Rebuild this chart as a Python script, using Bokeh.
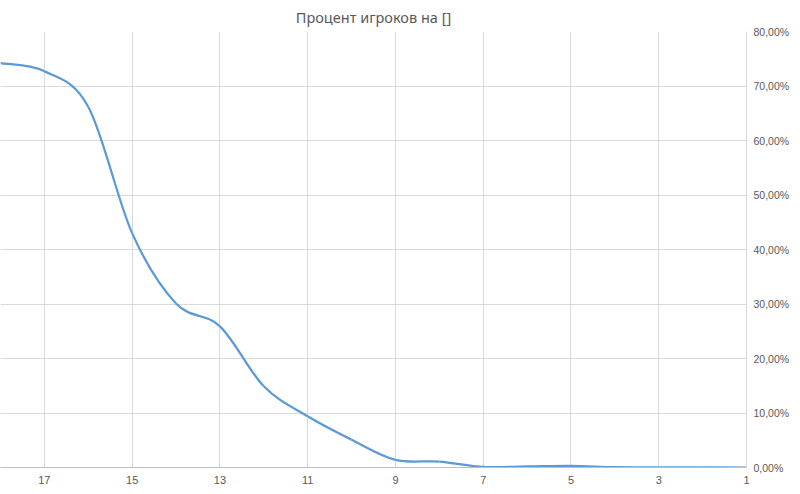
from bokeh.plotting import figure
from bokeh.models import Range1d, FixedTicker, LinearAxis
from bokeh.embed import file_html
from bokeh.resources import INLINE

# Data: number of remaining players (x) and percent of players (y, %)
levels = [18, 17, 16, 15, 14, 13, 12, 11, 10, 9, 8, 7, 6, 5, 4, 3, 2, 1]
percent = [74.2, 72.7, 66.2, 43.0, 30.1, 25.9, 14.9, 9.4, 5.1, 1.4, 1.1, 0.1, 0.2, 0.3, 0.05, 0.02, 0.01, 0.0]

x_ticks = [17, 15, 13, 11, 9, 7, 5, 3, 1]
y_ticks = [0, 10, 20, 30, 40, 50, 60, 70, 80]
y_tick_labels = ["0,00%", "10,00%", "20,00%", "30,00%", "40,00%", "50,00%", "60,00%", "70,00%", "80,00%"]

title_text = "Процент игроков на []"

LINE = "#5b9bd5"
GRID = "#d9d9d9"
TXT = "#595959"
FONT = "Liberation Sans"

p = figure(width=792, height=486, output_backend="svg", toolbar_location=None,
           x_range=Range1d(18, 1), y_range=Range1d(0, 80),
           min_border_left=0, min_border_right=0, min_border_top=0, min_border_bottom=0,
           y_axis_location=None)
p.outline_line_color = None
p.background_fill_color = "white"
p.border_fill_color = "white"

p.title.text = title_text
p.title.align = "center"
p.title.text_font = "Noto Sans"
p.title.text_font_size = "14.5px"
p.title.text_font_style = "normal"
p.title.text_color = TXT
p.title.offset = 0
p.title.standoff = 9

# smoothed line (Catmull-Rom -> Bezier segments), built from the data arrays
n = len(levels)
x0s, y0s, x1s, y1s, cx0s, cy0s, cx1s, cy1s = [], [], [], [], [], [], [], []
for i in range(n - 1):
    xm1, ym1 = (levels[i - 1], percent[i - 1]) if i > 0 else (levels[i], percent[i])
    xa, ya = levels[i], percent[i]
    xb, yb = levels[i + 1], percent[i + 1]
    xp2, yp2 = (levels[i + 2], percent[i + 2]) if i + 2 < n else (xb, yb)
    x0s.append(xa); y0s.append(ya); x1s.append(xb); y1s.append(yb)
    cx0s.append(xa + (xb - xm1) / 6.0); cy0s.append(ya + (yb - ym1) / 6.0)
    cx1s.append(xb - (xp2 - xa) / 6.0); cy1s.append(yb - (yp2 - ya) / 6.0)

p.bezier(x0=x0s, y0=y0s, x1=x1s, y1=y1s, cx0=cx0s, cy0=cy0s, cx1=cx1s, cy1=cy1s,
         line_color=LINE, line_width=2.25)

# x axis
xa = p.xaxis[0]
xa.ticker = FixedTicker(ticks=x_ticks)
xa.axis_line_color = "#bfbfbf"
xa.major_tick_line_color = None
xa.minor_tick_line_color = None
xa.major_tick_out = 0
xa.major_tick_in = 0
xa.major_label_text_font = FONT
xa.major_label_text_font_size = "11px"
xa.major_label_text_color = TXT
xa.major_label_standoff = 8

# right y axis
ya_ax = LinearAxis(ticker=FixedTicker(ticks=y_ticks),
                   major_label_overrides={t: l for t, l in zip(y_ticks, y_tick_labels)})
ya_ax.axis_line_color = GRID
ya_ax.major_tick_line_color = None
ya_ax.minor_tick_line_color = None
ya_ax.major_tick_out = 0
ya_ax.major_tick_in = 0
ya_ax.major_label_text_font = FONT
ya_ax.major_label_text_font_size = "10.5px"
ya_ax.major_label_text_color = TXT
ya_ax.major_label_standoff = 7
p.add_layout(ya_ax, "right")

p.xgrid.ticker = FixedTicker(ticks=x_ticks)
p.xgrid.grid_line_color = GRID
p.ygrid.ticker = FixedTicker(ticks=y_ticks)
p.ygrid.grid_line_color = GRID

open("out.html", "w").write(file_html(p, INLINE))
